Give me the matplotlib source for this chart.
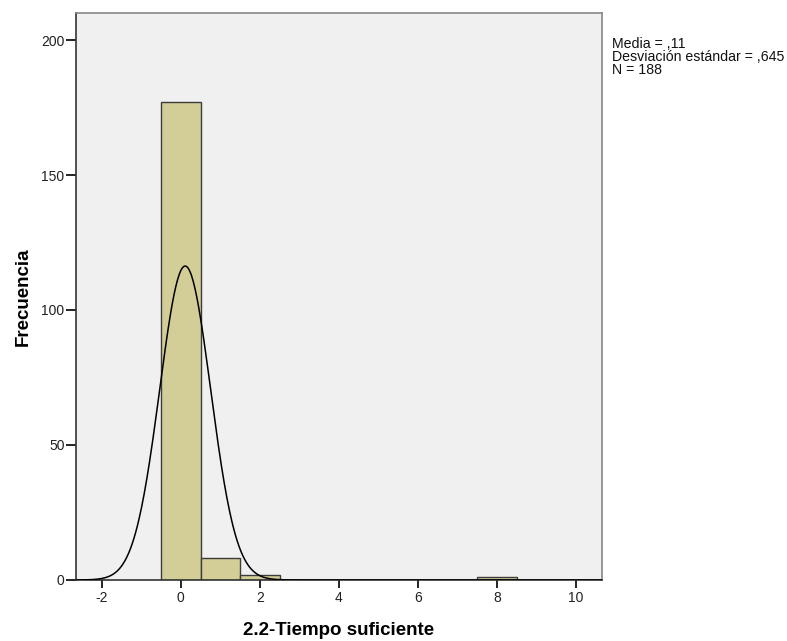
import numpy as np
import matplotlib
matplotlib.use("Agg")
import matplotlib.pyplot as plt

# Histogram data: bin centres and counts
bin_centers = [0, 1, 2, 8]
counts = [177, 8, 2, 1]
bin_width = 1.0

mean_val = 0.11
std_val = 0.645
n_total = 188

x_ticks = [-2, 0, 2, 4, 6, 8, 10]
y_ticks = [0, 50, 100, 150, 200]

plt.rcParams['font.family'] = ['Liberation Sans', 'DejaVu Sans']

fig = plt.figure(figsize=(7.87, 6.41), dpi=100)
ax = fig.add_axes([0.0962, 0.0952, 0.765 - 0.0962, 0.9797 - 0.0952])
ax.set_facecolor('#F0F0F0')

ax.bar(bin_centers, counts, width=bin_width, color='#D3CE98',
       edgecolor='#3C3C3C', linewidth=1.0, zorder=2)

# Normal curve scaled to counts
xs = np.linspace(-2.66, 10.66, 600)
pdf = np.exp(-0.5 * ((xs - mean_val) / std_val) ** 2) / (std_val * np.sqrt(2 * np.pi))
ax.plot(xs, pdf * n_total * bin_width, color='black', linewidth=1.1, zorder=3)

ax.set_xlim(-2.66, 10.66)
ax.set_ylim(0, 210)
ax.set_xticks(x_ticks)
ax.set_xticklabels([str(t) for t in x_ticks])
ax.set_yticks(y_ticks)
ax.set_yticklabels([str(t) for t in y_ticks])

ax.tick_params(axis='both', direction='out', width=1.2,
               labelsize=10, colors='black')
ax.tick_params(axis='x', length=6, pad=2, labelcolor='#222222')
ax.tick_params(axis='y', length=7, pad=1, labelcolor='#222222')

for side in ['left', 'bottom']:
    ax.spines[side].set_color('#333333')
    ax.spines[side].set_linewidth(1.2)
for side in ['top', 'right']:
    ax.spines[side].set_color('#888888')
    ax.spines[side].set_linewidth(1.2)

ax.set_xlabel('2.2-Tiempo suficiente', fontsize=13.5, fontweight='bold', labelpad=12)
ax.set_ylabel('Frecuencia', fontsize=13.5, fontweight='bold', labelpad=7)

fig.text(612 / 787, 1 - 37 / 641,
         'Media = ,11\nDesviación estándar = ,645\nN = 188',
         fontsize=10.2, va='top', ha='left', linespacing=0.92, color='#111111')

fig.savefig('out.png', dpi=100)
